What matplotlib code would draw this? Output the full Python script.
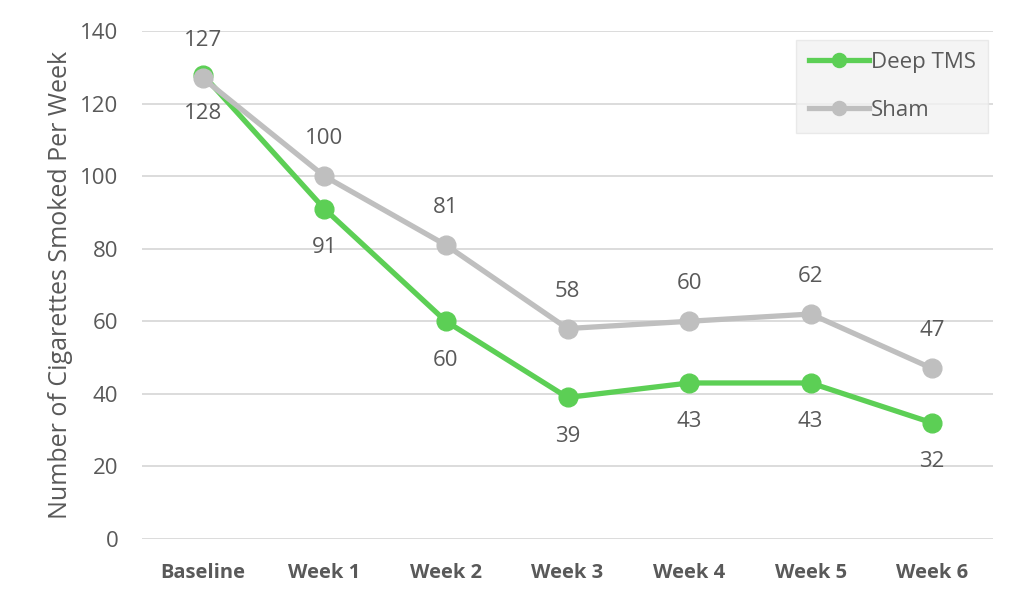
import matplotlib
matplotlib.use("Agg")
import matplotlib.pyplot as plt

categories = ["Baseline", "Week 1", "Week 2", "Week 3", "Week 4", "Week 5", "Week 6"]
deep_tms = [128, 91, 60, 39, 43, 43, 32]
sham = [127, 100, 81, 58, 60, 62, 47]
yticks = [0, 20, 40, 60, 80, 100, 120, 140]

plt.rcParams['font.family'] = ['Open Sans', 'DejaVu Sans']
txt = '#595959'
green = '#5ccf55'
gray = '#bfbfbf'

fig = plt.figure(figsize=(10.24, 6.05), dpi=100)
ax = fig.add_axes([142/1024, 1-539/605, (993-142)/1024, (539-31)/605])
x = list(range(len(categories)))

ax.plot(x, deep_tms, color=green, lw=3.8, marker='o', ms=13.5, label='Deep TMS', zorder=3)
ax.plot(x, sham, color=gray, lw=3.8, marker='o', ms=13.5, label='Sham', zorder=4)

for i in x:
    ax.annotate(str(sham[i]), (i, sham[i]), xytext=(0, 27), textcoords='offset points',
                ha='center', va='center', fontsize=16, color=txt)
    ax.annotate(str(deep_tms[i]), (i, deep_tms[i]), xytext=(0, -28), textcoords='offset points',
                ha='center', va='center', fontsize=16, color=txt)

ax.set_xlim(-0.5, len(categories) - 0.5)
ax.set_ylim(0, 140)
ax.set_yticks(yticks)
ax.set_xticks(x)
ax.set_xticklabels(categories, fontweight='bold', fontsize=14.5, color=txt)
ax.tick_params(axis='y', labelsize=16, labelcolor=txt, length=0, pad=17)
ax.tick_params(axis='x', length=0, pad=17)
ax.grid(axis='y', color='#d9d9d9', lw=1.3)
ax.set_axisbelow(True)
for s in ax.spines.values():
    s.set_visible(False)
ax.set_ylabel('Number of Cigarettes Smoked Per Week', fontsize=18, color=txt, labelpad=5)

leg = ax.legend(loc='upper right', bbox_to_anchor=((988-142)/(993-142), (539-40)/(539-31)),
                fontsize=16, frameon=True, fancybox=False, handlelength=2.7, borderaxespad=0,
                borderpad=0.55, labelspacing=1.2, handletextpad=0.1, markerscale=0.75)
leg.get_frame().set_facecolor('#f2f2f2')
leg.get_frame().set_edgecolor('#e6e6e6')
for t in leg.get_texts():
    t.set_color(txt)

fig.savefig('out.png', dpi=100)
